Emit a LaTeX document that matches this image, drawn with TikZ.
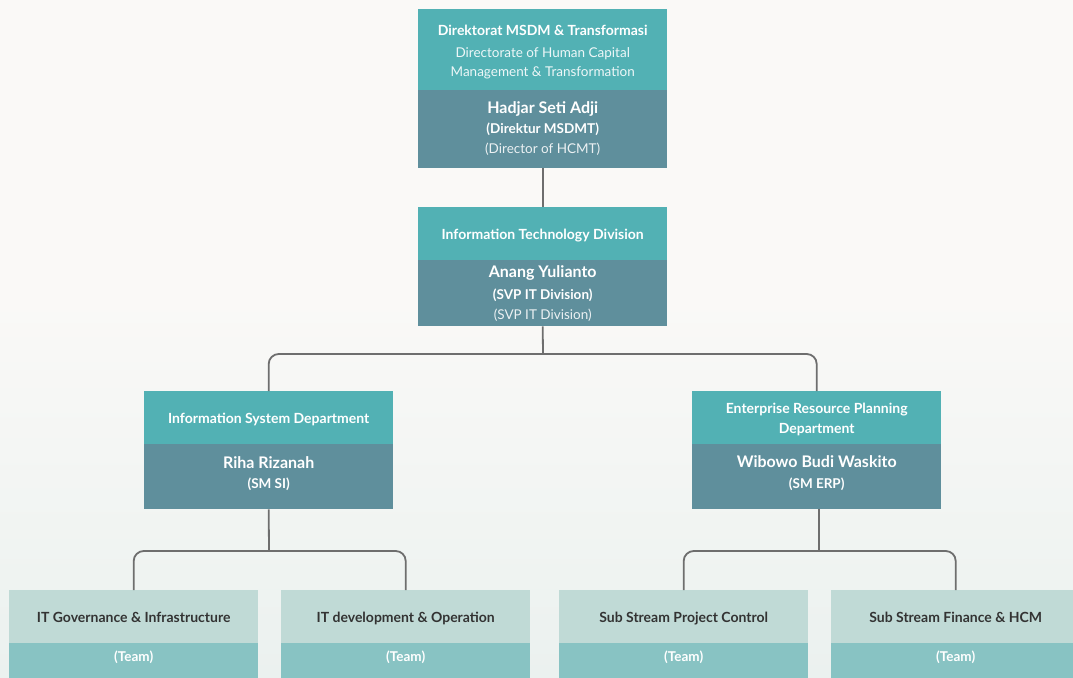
\documentclass[tikz,border=0pt]{standalone}
\usepackage{fontspec}
\setmainfont{Lato}
\usetikzlibrary{calc}

\definecolor{bgtop}{HTML}{FAF9F7}
\definecolor{bgbot}{HTML}{EBF1EF}
\definecolor{headteal}{HTML}{52B1B4}
\definecolor{bodyteal}{HTML}{5F8F9C}
\definecolor{teamhead}{HTML}{C0DAD6}
\definecolor{teambody}{HTML}{88C3C3}
\definecolor{teamtext}{HTML}{333333}
\definecolor{linkgray}{HTML}{6E6E6E}

\begin{document}
\begin{tikzpicture}[x=1pt,y=-1pt,
  box/.style={draw=none, inner sep=0pt, minimum width=249pt, anchor=north west},
  headbox/.style={box, fill=headteal},
  bodybox/.style={box, fill=bodyteal},
  teamheadbox/.style={box, fill=teamhead},
  teambodybox/.style={box, fill=teambody},
  lbl/.style={anchor=base, inner sep=0pt, text=white},
  lblhead/.style={lbl, font=\fontsize{14}{16}\selectfont\bfseries},
  lblsub/.style={lbl, font=\fontsize{13.5}{16}\selectfont, text=white!88!bodyteal},
  lblname/.style={lbl, font=\fontsize{16}{18}\selectfont\bfseries},
  lblrole/.style={lbl, font=\fontsize{13.5}{16}\selectfont\bfseries},
  lblteam/.style={lbl, font=\fontsize{14}{16}\selectfont\bfseries, text=teamtext},
  link/.style={draw=linkgray, line width=1.8pt, rounded corners=10pt}
]
% page and background
\useasboundingbox (0,0) rectangle (1073,677);
\fill[bgtop] (0,0) rectangle (1073,300);
\shade[top color=bgtop, bottom color=bgbot] (0,299) rectangle (1073,677);

% boxes
\node[headbox, minimum height=81pt] (dirH) at (418,9) {};
\node[bodybox, minimum height=78pt] (dirB) at (418,90) {};
\node[headbox, minimum height=53pt] (itH) at (418,207) {};
\node[bodybox, minimum height=66pt] (itB) at (418,260) {};
\node[headbox, minimum height=53pt] (isH) at (144,391) {};
\node[bodybox, minimum height=65pt] (isB) at (144,444) {};
\node[headbox, minimum height=53pt] (erpH) at (692,391) {};
\node[bodybox, minimum height=65pt] (erpB) at (692,444) {};
\node[teamheadbox, minimum height=53pt] (t1H) at (9,590) {};
\node[teambodybox, minimum height=54pt] (t1B) at (9,643) {};
\node[teamheadbox, minimum height=53pt] (t2H) at (281,590) {};
\node[teambodybox, minimum height=54pt] (t2B) at (281,643) {};
\node[teamheadbox, minimum height=53pt] (t3H) at (559,590) {};
\node[teambodybox, minimum height=54pt] (t3B) at (559,643) {};
\node[teamheadbox, minimum height=53pt] (t4H) at (831,590) {};
\node[teambodybox, minimum height=54pt] (t4B) at (831,643) {};

% connectors
\coordinate (j1) at (543,354);
\coordinate (j2) at (269,551);
\coordinate (j3) at (819,551);
\draw[link] (dirB.south) -- (itH.north);
\draw[link] (itB.south) -- (j1);
\draw[link] (isH.north) |- (j1) -| (erpH.north);
\draw[link] (isB.south) -- (j2);
\draw[link] (t1H.north) |- (j2) -| (t2H.north);
\draw[link] (j3 |- erpB.south) -- (j3);
\draw[link] (t3H.north) |- (j3) -| (t4H.north);

% directorate
\node[lblhead] (dirT1) at (dirH.center |- 0,36) {Direktorat MSDM \& Transformasi};
\node[lblsub, text=white!90!headteal] (dirT2) at (dirH.center |- 0,57) {Directorate of Human Capital};
\node[lblsub, text=white!90!headteal] (dirT3) at (dirH.center |- 0,77) {Management \& Transformation};
\node[lblname] (dirN) at (dirB.center |- 0,113.5) {Hadjar Seti Adji};
\node[lblrole] (dirR) at (dirB.center |- 0,133.5) {(Direktur MSDMT)};
\node[lblsub] (dirR2) at (dirB.center |- 0,153.5) {(Director of HCMT)};

% IT division
\node[lblhead] (itT) at (itH.center |- 0,239) {Information Technology Division};
\node[lblname] (itN) at (itB.center |- 0,277.5) {Anang Yulianto};
\node[lblrole] (itR) at (itB.center |- 0,299) {(SVP IT Division)};
\node[lblsub] (itR2) at (itB.center |- 0,319) {(SVP IT Division)};

% departments
\node[lblhead] (isT) at (isH.center |- 0,423) {Information System Department};
\node[lblname] (isN) at (isB.center |- 0,468) {Riha Rizanah};
\node[lblrole] (isR) at (isB.center |- 0,488) {(SM SI)};
\node[lblhead] (erpT1) at (erpH.center |- 0,413) {Enterprise Resource Planning};
\node[lblhead] (erpT2) at (erpH.center |- 0,433) {Department};
\node[lblname] (erpN) at (erpB.center |- 0,467.5) {Wibowo Budi Waskito};
\node[lblrole] (erpR) at (erpB.center |- 0,488) {(SM ERP)};

% teams
\node[lblteam] (t1T) at (t1H.center |- 0,622) {IT Governance \& Infrastructure};
\node[lblrole] (t1R) at (t1B.center |- 0,661) {(Team)};
\node[lblteam] (t2T) at (t2H.center |- 0,622) {IT development \& Operation};
\node[lblrole] (t2R) at (t2B.center |- 0,661) {(Team)};
\node[lblteam] (t3T) at (t3H.center |- 0,622) {Sub Stream Project Control};
\node[lblrole] (t3R) at (t3B.center |- 0,661) {(Team)};
\node[lblteam] (t4T) at (t4H.center |- 0,622) {Sub Stream Finance \& HCM};
\node[lblrole] (t4R) at (t4B.center |- 0,661) {(Team)};
\end{tikzpicture}
\end{document}
